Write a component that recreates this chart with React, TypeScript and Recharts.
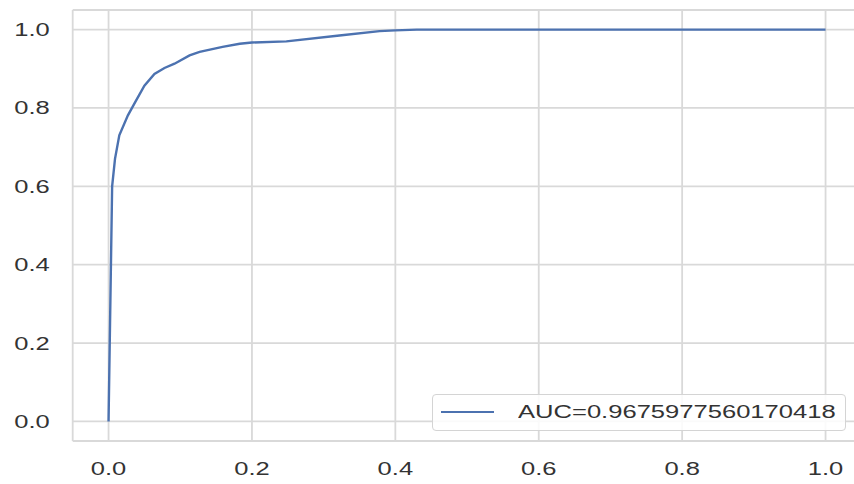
import { CartesianGrid, Line, LineChart, ReferenceLine, XAxis, YAxis } from "recharts";

// ROC curve points
const fpr = [0, 0.005, 0.009, 0.015, 0.027, 0.036, 0.05, 0.064, 0.078, 0.092, 0.113, 0.127, 0.159, 0.183, 0.2, 0.248, 0.322, 0.378, 0.4, 0.43, 1.0];
const tpr = [0, 0.6, 0.67, 0.73, 0.781, 0.811, 0.857, 0.887, 0.902, 0.913, 0.934, 0.943, 0.956, 0.964, 0.967, 0.97, 0.985, 0.996, 0.998, 1.0, 1.0];
const ticks = [0, 0.2, 0.4, 0.6, 0.8, 1.0];
const auc = "0.9675977560170418";

const data = fpr.map((x, i) => ({ fpr: x, tpr: tpr[i] }));

const FONT = "'Liberation Sans', Arial, sans-serif";
const TEXT = "#333333";
const GRID = "#d9d9d9";
const BLUE = "#4c72b0";
const STRETCH = 1.42;

function XTick({ x, y, payload }: any) {
  return (
    <text
      transform={`translate(${x},${y}) scale(${STRETCH},1)`}
      textAnchor="middle"
      dy="0.71em"
      fill={TEXT}
      fontSize={18}
      fontFamily={FONT}
    >
      {payload.value.toFixed(1)}
    </text>
  );
}

function YTick({ x, y, payload }: any) {
  return (
    <text
      transform={`translate(${x},${y}) scale(${STRETCH},1)`}
      textAnchor="end"
      dy="0.36em"
      fill={TEXT}
      fontSize={18}
      fontFamily={FONT}
    >
      {payload.value.toFixed(1)}
    </text>
  );
}

export default function App() {
  return (
    <div style={{ position: "fixed", left: 0, top: 0, width: 854, height: 484, overflow: "hidden", background: "#fff" }}>
      <LineChart width={870} height={484} data={data} margin={{ top: 10, right: 8.6, left: 0, bottom: 0 }}>
        <CartesianGrid stroke={GRID} strokeWidth={1.8} horizontalValues={ticks} verticalValues={ticks} />
        <XAxis
          type="number"
          dataKey="fpr"
          domain={[-0.05, 1.05]}
          ticks={ticks}
          height={43}
          tickSize={0}
          tickMargin={21}
          tickLine={false}
          axisLine={{ stroke: GRID, strokeWidth: 1.8 }}
          tick={<XTick />}
          allowDataOverflow
        />
        <YAxis
          type="number"
          domain={[-0.05, 1.05]}
          ticks={ticks}
          width={72.7}
          tickSize={0}
          tickMargin={23}
          tickLine={false}
          axisLine={{ stroke: GRID, strokeWidth: 1.8 }}
          tick={<YTick />}
          allowDataOverflow
        />
        <ReferenceLine y={1.05} stroke={GRID} strokeWidth={1.8} />
        <Line
          type="linear"
          dataKey="tpr"
          stroke={BLUE}
          strokeWidth={2.4}
          dot={false}
          activeDot={false}
          isAnimationActive={false}
        />
      </LineChart>
      <div
        style={{
          position: "absolute",
          left: 432,
          top: 394,
          width: 414,
          height: 37,
          border: "1px solid #d4d4d4",
          borderRadius: 4,
          background: "rgba(255,255,255,0.85)",
          boxSizing: "border-box",
        }}
      >
        <div style={{ position: "absolute", left: 8, top: 16, width: 53, height: 2.4, background: BLUE }} />
        <span
          style={{
            position: "absolute",
            left: 85,
            top: 6,
            fontFamily: FONT,
            fontSize: 18,
            lineHeight: "22px",
            color: TEXT,
            whiteSpace: "nowrap",
            transform: `scaleX(${STRETCH})`,
            transformOrigin: "left center",
          }}
        >
          AUC={auc}
        </span>
      </div>
    </div>
  );
}
